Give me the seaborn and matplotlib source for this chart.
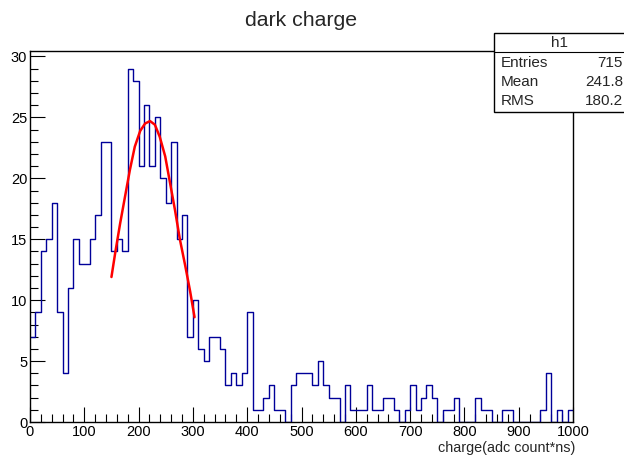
import numpy as np
import pandas as pd
import matplotlib
matplotlib.use("Agg")
import matplotlib.pyplot as plt
from matplotlib.patches import Rectangle
from matplotlib.lines import Line2D
from matplotlib.ticker import MultipleLocator
import seaborn as sns

# histogram: 100 bins of width 10 from 0 to 1000
bin_edges = list(range(0, 1001, 10))
counts = [7, 9, 14, 15, 18, 9, 4, 11, 15, 13,
          13, 15, 17, 23, 23, 14, 15, 14, 29, 28,
          21, 26, 21, 25, 20, 18, 23, 15, 17, 7,
          10, 6, 5, 7, 7, 6, 3, 4, 3, 4,
          9, 1, 1, 2, 3, 1, 1, 0, 3, 4,
          4, 4, 3, 5, 3, 2, 2, 0, 3, 1,
          1, 1, 3, 1, 1, 2, 2, 1, 0, 1,
          3, 1, 2, 3, 2, 0, 1, 1, 2, 0,
          0, 0, 2, 1, 1, 0, 0, 1, 1, 0,
          0, 0, 0, 0, 1, 4, 0, 1, 0, 1]

# gaussian fit curve
fit_x = [150, 157, 166, 175, 184, 193, 203, 212, 221, 230,
         239, 249, 258, 267, 276, 286, 295, 303]
fit_y = [11.9, 13.9, 16.3, 18.5, 20.7, 22.6, 23.9, 24.5, 24.7, 24.4,
         23.4, 21.8, 19.6, 17.4, 15.0, 12.8, 10.7, 8.6]

stats_labels = ["Entries", "Mean", "RMS"]
stats_values = ["715", "241.8", "180.2"]

sns.set_theme(style="white")
plt.rcParams['font.family'] = ['Liberation Sans', 'DejaVu Sans']

df = pd.DataFrame({"charge": [e + 5 for e in bin_edges[:-1]], "n": counts})

fig = plt.figure(figsize=(6.24, 4.55), dpi=100)
ax = fig.add_axes([30 / 624, 1 - 422 / 455, 543 / 624, 371 / 455])

sns.histplot(data=df, x="charge", weights="n", bins=bin_edges, element="step",
             fill=False, color="#000099", linewidth=1.0, ax=ax)
sns.lineplot(x=fit_x, y=fit_y, color="red", linewidth=1.8, sort=False, ax=ax)

ax.set_xlim(0, 1000)
ax.set_ylim(0, 30.45)
ax.xaxis.set_major_locator(MultipleLocator(100))
ax.xaxis.set_minor_locator(MultipleLocator(20))
ax.yaxis.set_major_locator(MultipleLocator(5))
ax.yaxis.set_minor_locator(MultipleLocator(1))
ax.tick_params(which="both", direction="in", colors="black", labelsize=10.5,
               bottom=True, left=True, top=False, right=False)
ax.tick_params(which="major", length=11, width=0.8, pad=2)
ax.tick_params(which="minor", length=5.5, width=0.8)
for s in ax.spines.values():
    s.set_color("black")
    s.set_linewidth(1.0)
ax.set_ylabel("")
ax.set_xlabel("")

fig.text(575 / 624, 1 - 448 / 455, "charge(adc count*ns)", ha="right",
         va="center", fontsize=10.4)
fig.text(301 / 624, 1 - 20 / 455, "dark charge", ha="center", va="center",
         fontsize=15.3)

# stats box (cut off at the right edge like the original)
x0, y_top, y_bot = 494 / 624, 1 - 33 / 455, 1 - 112 / 455
fig.patches.append(Rectangle((x0, y_bot), 1.0, y_top - y_bot,
                             transform=fig.transFigure, facecolor="white",
                             edgecolor="black", linewidth=1.0, zorder=5))
fig.lines.append(Line2D([x0, 1.0], [1 - 52 / 455] * 2, transform=fig.transFigure,
                        color="black", linewidth=0.8, zorder=6))
fig.text(559 / 624, 1 - 43 / 455, "h1", ha="center", va="center",
         fontsize=11, zorder=7)
for i, (lab, val) in enumerate(zip(stats_labels, stats_values)):
    y = 1 - (63 + i * 19) / 455
    fig.text(501 / 624, y, lab, ha="left", va="center", fontsize=11, zorder=7)
    fig.text(623 / 624, y, val, ha="right", va="center", fontsize=11, zorder=7)

fig.savefig("out.png", dpi=100, facecolor="white")
